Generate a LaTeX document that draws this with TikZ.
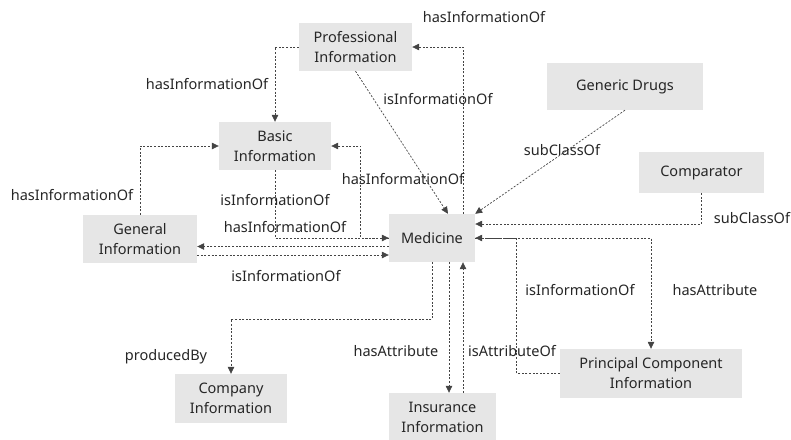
\documentclass[tikz,border=0pt]{standalone}
\usepackage{fontspec}
\setmainfont{Noto Sans}
\usetikzlibrary{calc,arrows.meta}
\definecolor{boxgray}{HTML}{E6E6E6}
\definecolor{linegray}{HTML}{444444}
\tikzset{
  box/.style={fill=boxgray, draw=none, inner sep=0pt, align=center,
    font=\fontsize{14.5}{20}\selectfont, text=black!85},
  rel/.style={draw=linegray, line width=0.7pt, dash pattern=on 2pt off 1.6pt,
    -{Triangle[length=7pt,width=6.5pt]}},
  lbl/.style={font=\fontsize{14.5}{18}\selectfont, text=black!85, inner sep=0pt}
}
\begin{document}
\begin{tikzpicture}[x=1pt,y=-1pt]
\useasboundingbox (0,0) rectangle (791,439);
% nodes
\node[box, minimum width=113pt, minimum height=48pt] (prof) at (355.5,47) {Professional\\Information};
\node[box, minimum width=112pt, minimum height=48pt] (basic) at (275,146) {Basic\\Information};
\node[box, minimum width=114pt, minimum height=48pt] (general) at (140,239) {General\\Information};
\node[box, minimum width=86pt, minimum height=48pt] (med) at (432,238) {Medicine};
\node[box, minimum width=156pt, minimum height=47pt] (generic) at (625,86.5) {Generic Drugs};
\node[box, minimum width=125pt, minimum height=41pt] (comp) at (701.5,172.5) {Comparator};
\node[box, minimum width=182pt, minimum height=49pt] (princ) at (651,373.5) {Principal Component\\Information};
\node[box, minimum width=112pt, minimum height=49pt] (company) at (231,398.5) {Company\\Information};
\node[box, minimum width=107pt, minimum height=48pt] (insur) at (442.5,417) {Insurance\\Information};
% helper coordinates
\coordinate (mA) at ($(med.west)+(0,8.5)$);
\coordinate (mB) at ($(med.west)+(0,17)$);
\coordinate (mC) at ($(med.south)+(17,0)$);
\coordinate (mD) at ($(med.south)+(31,0)$);
\coordinate (mE) at ($(med.north)+(31,0)$);
\coordinate (mF) at ($(med.east)+(0,-14)$);
% connectors
\draw[rel] (prof.west) -| (basic.north);
\draw[rel] (mE) |- (prof.east);
\draw[rel] (prof.south) -- ($(med.north)+(16,0)$);
\draw[rel] (basic.south) |- (med.west);
\draw[rel] (med.west) -- ++(-28,0) |- (basic.east);
\draw[rel] (mA) -- (mA -| general.east);
\draw[rel] (mB -| general.east) -- (mB);
\draw[rel] (general.north) |- (basic.west);
\draw[rel] (generic.south) -- (med.north east);
\draw[rel] (comp.south) |- (mF);
\draw[rel] (med.east) -| (princ.north);
\draw[rel] (princ.west) -- ++(-43,0) |- (med.east);
\draw[rel] (med.south) -- ++(0,57) -| (company.north);
\draw[rel] (mC) -- (mC |- insur.north);
\draw[rel] (mD |- insur.north) -- (mD);
% labels
\node[lbl] (l1) at (207,84) {hasInformationOf};
\node[lbl] (l2) at (484,17) {hasInformationOf};
\node[lbl] (l3) at (438,99) {isInformationOf};
\node[lbl] (l4) at (403,179) {hasInformationOf};
\node[lbl] (l5) at (275,200) {isInformationOf};
\node[lbl] (l6) at (285,227) {hasInformationOf};
\node[lbl] (l7) at (286,276) {isInformationOf};
\node[lbl] (l8) at (72,195) {hasInformationOf};
\node[lbl] (l9) at (562,150) {subClassOf};
\node[lbl] (l10) at (752,218) {subClassOf};
\node[lbl] (l11) at (580,290) {isInformationOf};
\node[lbl] (l12) at (715,290) {hasAttribute};
\node[lbl] (l13) at (166,357) {producedBy};
\node[lbl] (l14) at (396,351) {hasAttribute};
\node[lbl] (l15) at (512,351) {isAttributeOf};
\end{tikzpicture}
\end{document}
